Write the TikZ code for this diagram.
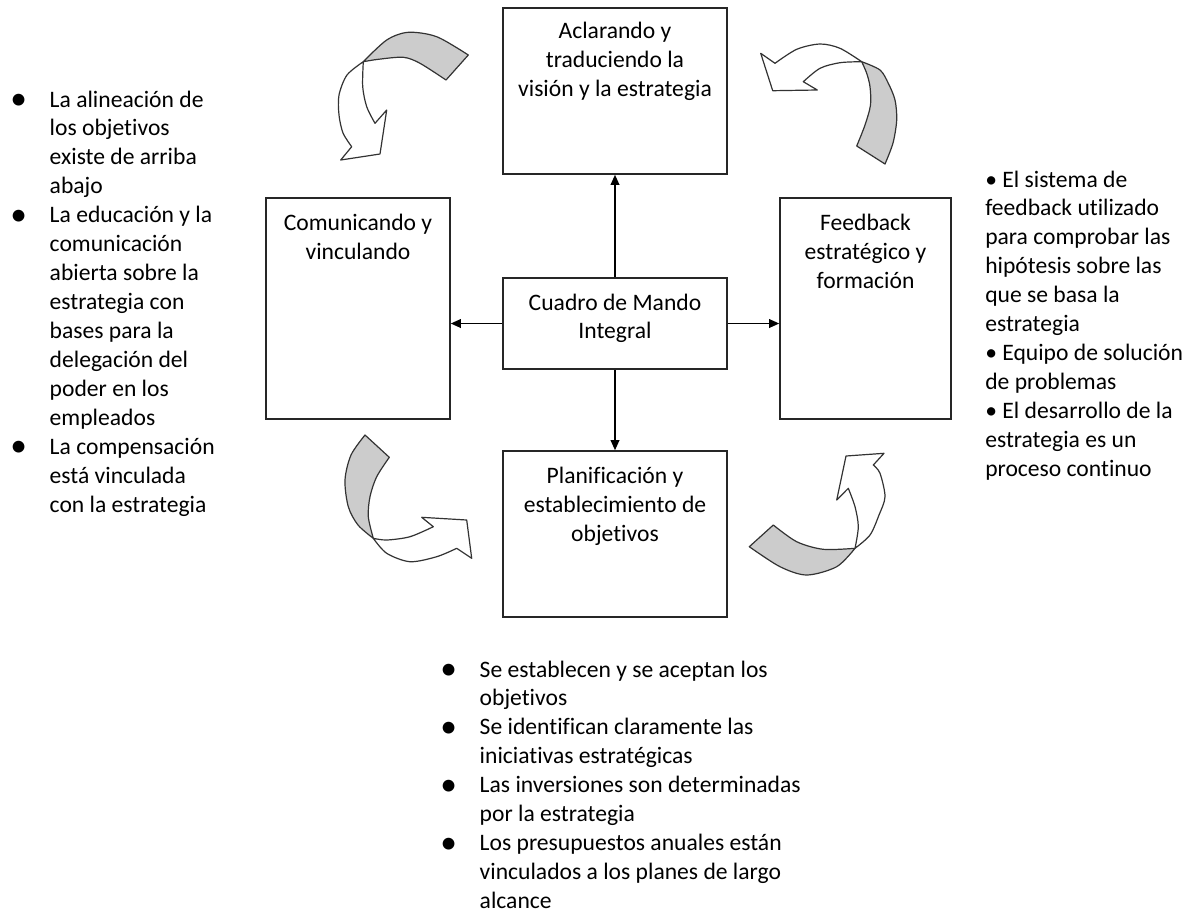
\documentclass[tikz,border=0pt]{standalone}
\usepackage{fontspec}
\setmainfont{Carlito}[Ligatures={NoCommon}]
\usetikzlibrary{arrows.meta}
\newcommand\mytxt{\fontsize{17.7}{21.7}\selectfont}
\newcommand\bigbul{\raisebox{-2pt}{\fontsize{25}{21.7}\selectfont\textbullet}}
\newcommand\boxtext[4]{\parbox[c][#2][t]{#1}{\centering\rule{0pt}{#3}#4}}
\newcommand\hind{\hspace*{29.6pt}}
\newcommand\bitem{\makebox[29.6pt][l]{\bigbul}}
\tikzset{
  box/.style={draw=black!85, line width=1.2pt, inner sep=0pt, font=\mytxt},
  conn/.style={draw=black, line width=1pt, -{Triangle[length=7.5pt,width=6.5pt]}},
  band/.style={fill=black!20, draw=black!80, line width=0.9pt, line join=round},
  front/.style={fill=white, draw=black!80, line width=0.9pt, line join=round},
  blk/.style={anchor=base west, inner sep=0pt, font=\mytxt}
}
\begin{document}
\begin{tikzpicture}[x=0.75pt,y=-0.75pt]
\useasboundingbox (0,0) rectangle (1191,915);

% boxes
\node[box] (top) at (615,91) {\boxtext{168pt}{124.5pt}{23pt}{Aclarando y\\traduciendo la\\visión y la estrategia}};
\node[box] (left) at (358,308.5) {\boxtext{138pt}{165.75pt}{24.3pt}{Comunicando y\\vinculando}};
\node[box] (right) at (865.5,308.5) {\boxtext{128.25pt}{165.75pt}{24.3pt}{Feedback\\estratégico y\\formación}};
\node[box] (mid) at (615,323.5) {\boxtext{168pt}{68.25pt}{24pt}{Cuadro de Mando\\Integral}};
\node[box] (bot) at (615,534) {\boxtext{168pt}{124.5pt}{24.2pt}{Planificación y\\establecimiento de\\objetivos}};

% connectors
\draw[conn] (mid.north) -- (top.south);
\draw[conn] (mid.south) -- (bot.north);
\draw[conn] (mid.west) -- (mid.west -| left.east);
\draw[conn] (mid.east) -- (mid.east -| right.west);

% curved arrow top-left
\filldraw[band] plot[smooth] coordinates {(363.3,61.7) (386.7,40) (408.3,32.3) (436.7,36.7) (468.3,55)} -- (446,80)
  -- plot[smooth] coordinates {(446,80) (420,63.3) (403.3,57.3) (378.3,59.3) (363.3,61.7)} -- cycle;
\filldraw[front] plot[smooth] coordinates {(363.3,61.7) (347,75) (339,95) (339,115) (343,133) (351.7,146.7)}
  -- (340.7,160) -- (380,154) -- (386.7,110) -- (375,123.3)
  -- plot[smooth] coordinates {(375,123.3) (366.7,106.7) (362.7,86.7) (363.3,61.7)} -- cycle;

% curved arrow top-right
\filldraw[band] plot[smooth] coordinates {(861.7,61.7) (880,70) (888.3,83.3) (895,100) (896.7,120) (893,143) (885,164)} -- (856.7,146)
  -- plot[smooth] coordinates {(856.7,146) (865,125) (870.5,105) (870,86.7) (866.7,73.3) (861.7,61.7)} -- cycle;
\filldraw[front] plot[smooth] coordinates {(861.7,61.7) (840,48.3) (820,44) (796.7,49.3) (775,63.3)}
  -- (760.7,53.3) -- (772.7,90.7) -- (817.3,90) -- (803.3,81.7)
  -- plot[smooth] coordinates {(803.3,81.7) (820,68.3) (840,62.7) (861.7,61.7)} -- cycle;

% curved arrow bottom-left
\filldraw[band] plot[smooth] coordinates {(365,435) (351,455) (345,480) (348.3,506.7) (358,525) (373.3,538.3)}
  -- plot[smooth] coordinates {(373.3,538.3) (368.3,516.7) (370,496.7) (376.7,476.7) (389.3,457.3)} -- cycle;
\filldraw[front] plot[smooth] coordinates {(373.3,538.3) (386.7,553.3) (410,561.7) (436.7,556.7) (456.7,548.3)}
  -- (471.7,558.3) -- (466.7,520) -- (421.7,517.3) -- (433.3,526.7)
  -- plot[smooth] coordinates {(433.3,526.7) (410,536.7) (386.7,540) (373.3,538.3)} -- cycle;

% curved arrow bottom-right
\filldraw[band] plot[smooth] coordinates {(749.3,546.7) (780,566.7) (806.7,575) (836.7,566.7) (855,548.3)}
  -- plot[smooth] coordinates {(855,548.3) (823.3,549.3) (796.7,541.7) (773.3,525)} -- cycle;
\filldraw[front] plot[smooth] coordinates {(855,548.3) (870,535) (879,515) (885,496.7) (880,473.3) (873.3,465)}
  -- (884,453.3) -- (846,456) -- (836.7,500) -- (848.3,488.3)
  -- plot[smooth] coordinates {(848.3,488.3) (855,506.7) (858.3,526.7) (855,548.3)} -- cycle;

% text blocks
\node[blk] (ltext) at (10,107) {\parbox[t]{220pt}{\raggedright
\bitem La alineación de\\
\hind los objetivos\\
\hind existe de arriba\\
\hind abajo\\
\bitem La educación y la\\
\hind comunicación\\
\hind abierta sobre la\\
\hind estrategia con\\
\hind bases para la\\
\hind delegación del\\
\hind poder en los\\
\hind empleados\\
\bitem La compensación\\
\hind está vinculada\\
\hind con la estrategia}};

\node[blk] (rtext) at (985,187) {\parbox[t]{200pt}{\raggedright
\textbullet\ El sistema de\\
feedback utilizado\\
para comprobar las\\
hipótesis sobre las\\
que se basa la\\
estrategia\\
\textbullet\ Equipo de solución\\
de problemas\\
\textbullet\ El desarrollo de la\\
estrategia es un\\
proceso continuo}};

\node[blk] (btext) at (440,677) {\parbox[t]{300pt}{\raggedright
\bitem Se establecen y se aceptan los\\
\hind objetivos\\
\bitem Se identifican claramente las\\
\hind iniciativas estratégicas\\
\bitem Las inversiones son determinadas\\
\hind por la estrategia\\
\bitem Los presupuestos anuales están\\
\hind vinculados a los planes de largo\\
\hind alcance}};
\end{tikzpicture}
\end{document}
